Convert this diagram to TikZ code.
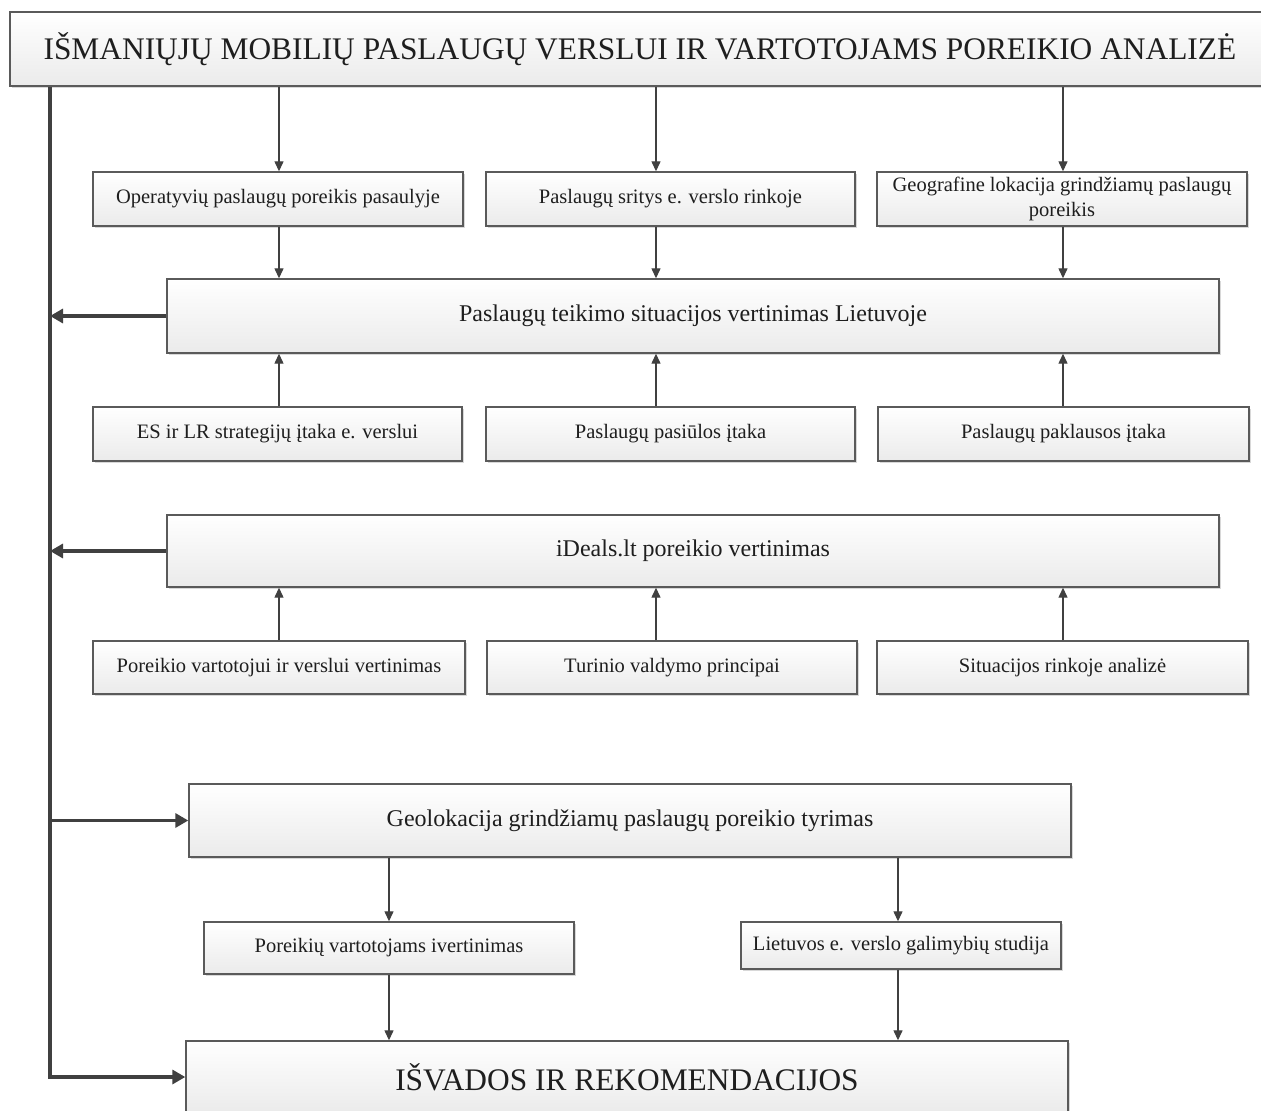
\documentclass[tikz,border=0pt]{standalone}
\usepackage{fontspec}
\setmainfont{Liberation Serif}
\usetikzlibrary{arrows.meta,shadows}
\definecolor{edge}{HTML}{5A5A5A}
\definecolor{ink}{HTML}{404040}
\definecolor{txt}{HTML}{1E1E1E}
\tikzset{
 box/.style={draw=edge, line width=1.4pt, top color=white, bottom color=gray!16,
   drop shadow={shadow xshift=1.5pt, shadow yshift=-1.5pt, opacity=0.3, fill=gray},
   text=txt, inner sep=0pt, align=center, font=\fontsize{20.5}{24.6}\selectfont},
 medbox/.style={box, font=\fontsize{24}{28}\selectfont},
 bigbox/.style={box, font=\fontsize{31.4}{36}\selectfont},
 thinarrow/.style={draw=ink, line width=1.3pt, -{Triangle[length=10pt,width=9pt]}},
 thickarrow/.style={draw=ink, line width=3.2pt, line join=miter, -{Triangle[length=13pt,width=14pt]}},
}
\begin{document}
\begin{tikzpicture}[x=1pt,y=-1pt]
\useasboundingbox[fill=white] (0,0) rectangle (1261,1111);

\node[bigbox, minimum width=1260pt, minimum height=74pt] (title) at (640,49) {IŠMANIŲJŲ MOBILIŲ PASLAUGŲ VERSLUI IR VARTOTOJAMS POREIKIO ANALIZĖ};

\node[box, minimum width=370pt, minimum height=54pt] (r1a) at (278,199) {Operatyvių paslaugų poreikis pasaulyje};
\node[box, minimum width=369pt, minimum height=54pt] (r1b) at (670.5,199) {Paslaugų sritys e. verslo rinkoje};
\node[box, minimum width=370pt, minimum height=54pt] (r1c) at (1062,199) {Geografine lokacija grindžiamų paslaugų\\poreikis};

\node[medbox, minimum width=1052pt, minimum height=74pt] (teik) at (693,316) {Paslaugų teikimo situacijos vertinimas Lietuvoje};

\node[box, minimum width=369pt, minimum height=54pt] (r2a) at (277.5,434) {ES ir LR strategijų įtaka e. verslui};
\node[box, minimum width=369pt, minimum height=54pt] (r2b) at (670.5,434) {Paslaugų pasiūlos įtaka};
\node[box, minimum width=371pt, minimum height=54pt] (r2c) at (1063.5,434) {Paslaugų paklausos įtaka};

\node[medbox, minimum width=1052pt, minimum height=72pt] (ideals) at (693,551) {iDeals.lt poreikio vertinimas};

\node[box, minimum width=372pt, minimum height=53pt] (r3a) at (279,667.5) {Poreikio vartotojui ir verslui vertinimas};
\node[box, minimum width=370pt, minimum height=53pt] (r3b) at (672,667.5) {Turinio valdymo principai};
\node[box, minimum width=371pt, minimum height=53pt] (r3c) at (1062.5,667.5) {Situacijos rinkoje analizė};

\node[medbox, minimum width=882pt, minimum height=73pt] (geo) at (630,820.5) {Geolokacija grindžiamų paslaugų poreikio tyrimas};

\node[box, minimum width=370pt, minimum height=52pt] (r4a) at (389,948) {Poreikių vartotojams ivertinimas};
\node[box, minimum width=320pt, minimum height=47pt] (r4b) at (901,945.5) {Lietuvos e. verslo galimybių studija};

\node[bigbox, minimum width=882pt, minimum height=72pt] (isv) at (627,1077) {IŠVADOS IR REKOMENDACIJOS};

% column x positions of the thin connectors
\coordinate (ca) at (279,0);
\coordinate (cb) at (656,0);
\coordinate (cc) at (1063,0);

% row 1
\draw[thinarrow] (title.south -| ca) -- (r1a.north -| ca);
\draw[thinarrow] (title.south -| cb) -- (r1b.north -| cb);
\draw[thinarrow] (title.south -| cc) -- (r1c.north -| cc);
\draw[thinarrow] (r1a.south -| ca) -- (teik.north -| ca);
\draw[thinarrow] (r1b.south -| cb) -- (teik.north -| cb);
\draw[thinarrow] (r1c.south -| cc) -- (teik.north -| cc);
% row 2
\draw[thinarrow] (r2a.north -| ca) -- (teik.south -| ca);
\draw[thinarrow] (r2b.north -| cb) -- (teik.south -| cb);
\draw[thinarrow] (r2c.north -| cc) -- (teik.south -| cc);
% row 3
\draw[thinarrow] (r3a.north -| ca) -- (ideals.south -| ca);
\draw[thinarrow] (r3b.north -| cb) -- (ideals.south -| cb);
\draw[thinarrow] (r3c.north -| cc) -- (ideals.south -| cc);

\coordinate (ga) at (389,0);
\coordinate (gb) at (898,0);
\draw[thinarrow] (geo.south -| ga) -- (r4a.north -| ga);
\draw[thinarrow] (geo.south -| gb) -- (r4b.north -| gb);
\draw[thinarrow] (r4a.south -| ga) -- (isv.north -| ga);
\draw[thinarrow] (r4b.south -| gb) -- (isv.north -| gb);

% spine
\coordinate (sp) at (50,0);
\draw[thickarrow] (title.south -| sp) -- (isv.west -| sp) -- (isv.west);
\draw[thickarrow] (teik.west) -- (teik.west -| sp);
\draw[thickarrow] (ideals.west) -- (ideals.west -| sp);
\draw[thickarrow] (geo.west -| sp) -- (geo.west);
\end{tikzpicture}
\end{document}
